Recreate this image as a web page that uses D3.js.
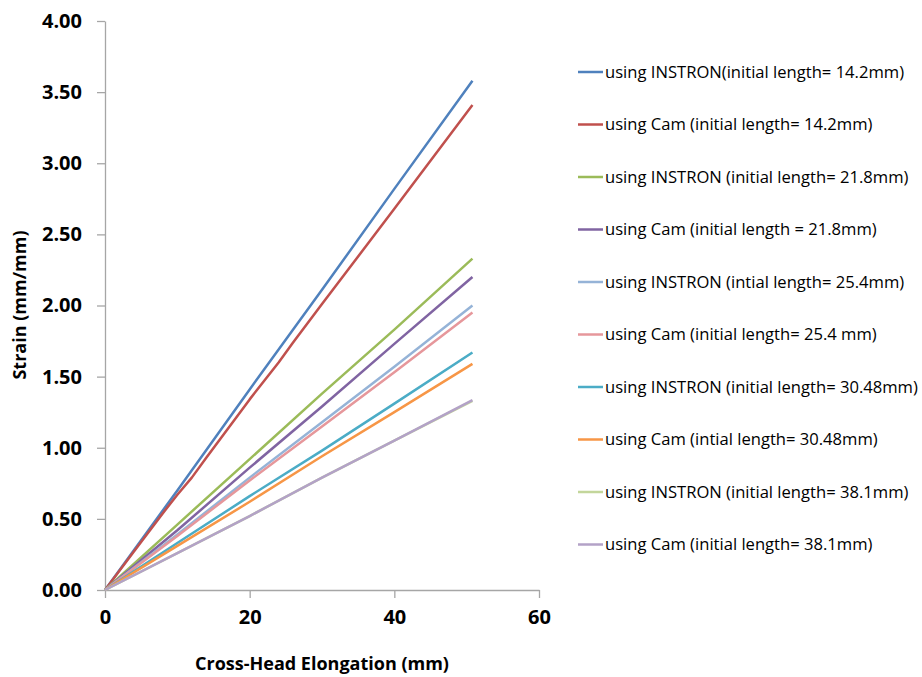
<!DOCTYPE html>
<html>
<head>
<meta charset="utf-8">
<script src="https://cdn.jsdelivr.net/npm/d3@7"></script>
<style>
  body { margin: 0; background: #fff; }
  text { font-family: "Open Sans", sans-serif; }
  .axis path, .axis line { stroke: #a6a6a6; stroke-width: 1.3; }
  .axis text { font-size: 20px; font-weight: bold; fill: #000; }
  .legend text { font-size: 16.6px; fill: #000; }
</style>
</head>
<body>
<div id="chart"></div>
<script>
// elongation (mm) sample points
var xInstron = [0, 10, 20, 30, 40, 50.8];
var xCamA = [0, 4, 8, 10, 12, 14, 20, 24, 26, 30, 40, 50.8];
var xCamB = [0, 10, 20, 30, 40, 50.8];

var names = [
  "using INSTRON(initial length= 14.2mm)",
  "using Cam (initial length= 14.2mm)",
  "using INSTRON (initial length= 21.8mm)",
  "using Cam (initial length = 21.8mm)",
  "using INSTRON (intial length= 25.4mm)",
  "using Cam (initial length= 25.4 mm)",
  "using INSTRON (initial length= 30.48mm)",
  "using Cam (intial length= 30.48mm)",
  "using INSTRON (initial length= 38.1mm)",
  "using Cam (initial length= 38.1mm)"
];
var colors = ["#4f81bd", "#c0504d", "#9bbb59", "#8064a2", "#95b3d7",
              "#e6979b", "#4bacc6", "#f79646", "#c3d69b", "#b3a2c7"];

// strain values (mm/mm)
var instron142 = [0, 0.70, 1.41, 2.11, 2.82, 3.58];
var cam142     = [0, 0.27, 0.54, 0.67, 0.79, 0.93, 1.34, 1.60, 1.74, 2.01, 2.68, 3.41];
var instron218 = [0, 0.46, 0.92, 1.38, 1.83, 2.33];
var cam218     = [0, 0.42, 0.86, 1.29, 1.73, 2.20];
var instron254 = [0, 0.39, 0.79, 1.18, 1.57, 2.00];
var cam254     = [0, 0.38, 0.77, 1.15, 1.53, 1.95];
var instron305 = [0, 0.33, 0.66, 0.98, 1.31, 1.67];
var cam305     = [0, 0.31, 0.62, 0.94, 1.25, 1.59];
var instron381 = [0, 0.26, 0.52, 0.79, 1.05, 1.33];
var cam381     = [0, 0.26, 0.52, 0.79, 1.05, 1.335];

var xTicks = [0, 20, 40, 60];
var yTicks = [0, 0.5, 1, 1.5, 2, 2.5, 3, 3.5, 4];

var seriesX = [xInstron, xCamA, xInstron, xCamB, xInstron, xCamB, xInstron, xCamB, xInstron, xCamB];
var seriesY = [instron142, cam142, instron218, cam218, instron254, cam254, instron305, cam305, instron381, cam381];

var W = 922, H = 677;
var svg = d3.select("#chart").append("svg")
    .attr("width", W).attr("height", H);

var x = d3.scaleLinear().domain([0, 60]).range([105, 539]);
var y = d3.scaleLinear().domain([0, 4]).range([590, 21]);

svg.append("g")
    .attr("class", "axis")
    .attr("transform", "translate(0,590)")
    .call(d3.axisBottom(x).tickValues(xTicks).tickSize(8).tickSizeOuter(0).tickPadding(16))
    .selectAll("text").attr("dy", "0.5em");

svg.append("g")
    .attr("class", "axis")
    .attr("transform", "translate(105,0)")
    .call(d3.axisLeft(y).tickValues(yTicks).tickFormat(d3.format(".2f")).tickSize(8).tickSizeOuter(0).tickPadding(15));

// axis titles
svg.append("text")
    .attr("x", 322).attr("y", 670)
    .attr("text-anchor", "middle")
    .style("font-size", "18px").style("font-weight", "bold")
    .text("Cross-Head Elongation (mm)");

svg.append("text")
    .attr("transform", "translate(26,305) rotate(-90)")
    .attr("text-anchor", "middle")
    .style("font-size", "18px").style("font-weight", "bold")
    .text("Strain (mm/mm)");

var line = d3.line()
    .x(function(d) { return x(d[0]); })
    .y(function(d) { return y(d[1]); });

for (var i = 0; i < names.length; i++) {
    var pts = seriesX[i].map(function(v, j) { return [v, seriesY[i][j]]; });
    svg.append("path")
        .datum(pts)
        .attr("d", line)
        .attr("fill", "none")
        .attr("stroke", colors[i])
        .attr("stroke-width", 2.5)
        .attr("stroke-linejoin", "round");
}

// legend
var legend = svg.append("g").attr("class", "legend");
names.forEach(function(n, i) {
    var ly = 72 + i * 52.5;
    legend.append("line")
        .attr("x1", 578).attr("x2", 603)
        .attr("y1", ly).attr("y2", ly)
        .attr("stroke", colors[i]).attr("stroke-width", 2.5);
    legend.append("text")
        .attr("x", 605).attr("y", ly).attr("dy", "0.35em")
        .text(n);
});
</script>
</body>
</html>
